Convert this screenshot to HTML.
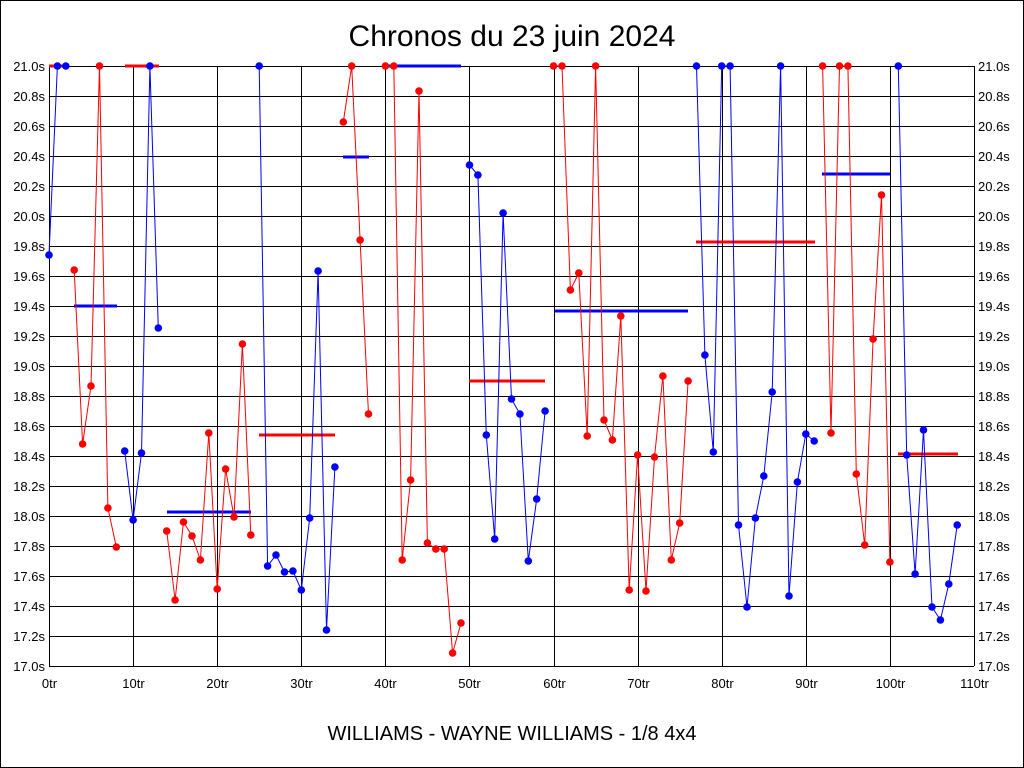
<!DOCTYPE html>
<html><head><meta charset="utf-8"><style>
html,body{margin:0;padding:0;background:#fff;}
svg{display:block;}
text{font-family:"Liberation Sans",Arial,sans-serif;fill:#000;}
</style></head><body>
<svg id="s" width="1024" height="768" xmlns="http://www.w3.org/2000/svg">
<rect x="0.5" y="0.5" width="1023" height="767" fill="#fff" stroke="#000" stroke-width="1"/>
<text x="512" y="46" font-size="30" text-anchor="middle">Chronos du 23 juin 2024</text>
<text x="512" y="740" font-size="20" text-anchor="middle">WILLIAMS - WAYNE WILLIAMS - 1/8 4x4</text>
<g id="g"></g>
</svg>
<script>
var NS="http://www.w3.org/2000/svg",g=document.getElementById("g");
function el(n,a,t){var e=document.createElementNS(NS,n);for(var k in a)e.setAttribute(k,a[k]);if(t!=null)e.textContent=t;g.appendChild(e);return e;}
var X0=49,X1=974,Y0=66,Y1=666;
function X(l){return X0+l*(X1-X0)/110;}
for(var i=0;i<=20;i++){var y=Y0+i*30;el("line",{x1:X0,x2:X1,y1:y+0.5,y2:y+0.5,stroke:"#000","stroke-width":1});
 var v=(21-i*0.2).toFixed(1)+"s";
 el("text",{x:X0-4,y:y+5,"font-size":13,"text-anchor":"end"},v);
 el("text",{x:X1+4,y:y+5,"font-size":13},v);}
for(var k=0;k<=11;k++){var x=Math.round(X(k*10))+0.5;el("line",{x1:x,x2:x,y1:Y0,y2:Y1,stroke:"#000","stroke-width":1});
 el("text",{x:x,y:688,"font-size":13,"text-anchor":"middle"},(k*10)+"tr");}
var B="#0000ff",R="#ff0000";
var segs=[
[B,0,[255,66,66],R,49,67,66],
[R,3,[270,444,386,66,508,547],B,74,117,306],
[B,9,[451,520,453,66,328],R,125,159,66],
[R,14,[531,600,522,536,560,433,589,469,517,344,535],B,167,251,512],
[B,25,[66,566,555,572,571,590,518,271,630,467],R,259,335,435],
[R,35,[122,66,240,414],B,343,369,157],
[R,40,[66,66,560,480,91,543,549,549,653,623],B,388,461,66],
[B,50,[165,175,435,539,213,399,414,561,499,411],R,469,545,381],
[R,60,[66,66,290,273,436,66,420,440,316,590,455,591,457,376,560,523,381],B,555,688,311],
[B,77,[66,355,452,66,66,525,607,518,476,392,66,596,482,434,441],R,696,815,242],
[R,92,[66,433,66,66,474,545,339,195,562],B,822,890,174],
[B,101,[66,455,574,430,607,620,584,525],R,898,958,454]
];
segs.forEach(function(s){
 var c=s[0],st=s[1],ys=s[2],pts=[];
 ys.forEach(function(y,i){pts.push(X(st+i).toFixed(1)+","+y);});
 el("line",{x1:s[4],x2:s[5],y1:s[6],y2:s[6],stroke:s[3],"stroke-width":3});
 el("polyline",{points:pts.join(" "),fill:"none",stroke:c,"stroke-width":1});
 ys.forEach(function(y,i){el("circle",{cx:X(st+i).toFixed(1),cy:y,r:3.8,fill:c});});
});
</script>
</body></html>
